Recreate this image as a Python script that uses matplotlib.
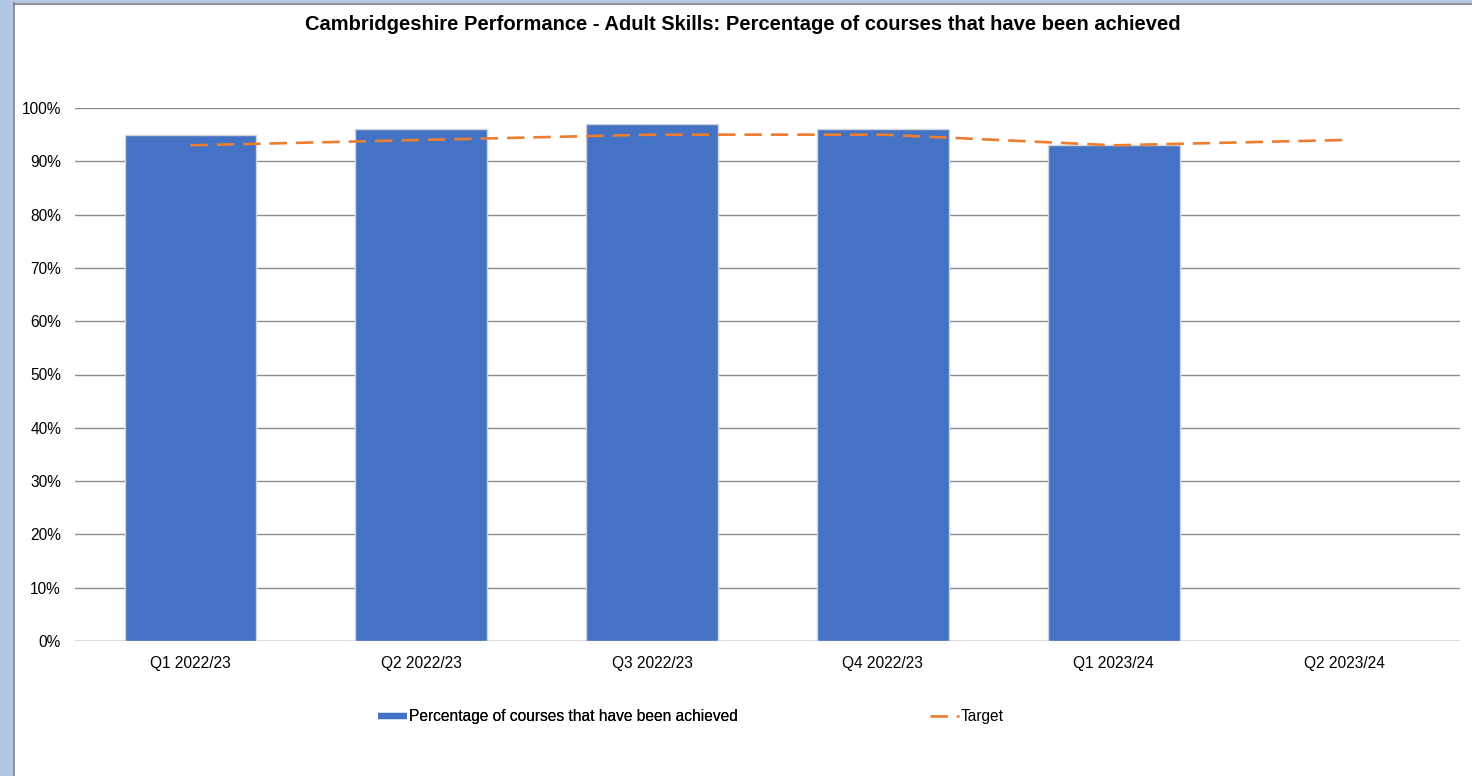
import matplotlib
matplotlib.use("Agg")
import matplotlib.pyplot as plt
from matplotlib.lines import Line2D
from matplotlib.patches import Rectangle
from matplotlib.ticker import PercentFormatter

quarters = ["Q1 2022/23", "Q2 2022/23", "Q3 2022/23", "Q4 2022/23", "Q1 2023/24", "Q2 2023/24"]
achieved = [95, 96, 97, 96, 93, None]
target = [93, 94, 95, 95, 93, 94]
y_ticks = [0, 10, 20, 30, 40, 50, 60, 70, 80, 90, 100]

title = "Cambridgeshire Performance - Adult Skills: Percentage of courses that have been achieved"
bar_label = "Percentage of courses that have been achieved"
line_label = "Target"

BLUE = "#4472C4"
ORANGE = "#ED7D31"
FONT = "Liberation Sans"
LABEL_SIZE = 11.2

W, H = 1472, 776
fig = plt.figure(figsize=(W / 100, H / 100), dpi=100)
fig.patch.set_facecolor("white")

# window frame on the left and top
fig.add_artist(Rectangle((0, 0), 13 / W, 1, transform=fig.transFigure,
                         facecolor="#B4C7E7", edgecolor="none", zorder=0))
fig.add_artist(Rectangle((0, 1 - 3 / H), 1, 3 / H, transform=fig.transFigure,
                         facecolor="#B4C7E7", edgecolor="none", zorder=0))
fig.add_artist(Line2D([13.5 / W, 13.5 / W], [0, 1 - 3 / H], transform=fig.transFigure,
                      color="#7F7F7F", lw=1.2))
fig.add_artist(Line2D([13.5 / W, 1], [1 - 3.5 / H, 1 - 3.5 / H], transform=fig.transFigure,
                      color="#7F7F7F", lw=1.2))

left, right = 75 / W, 1460 / W
bottom, top = (H - 641) / H, (H - 108) / H
ax = fig.add_axes([left, bottom, right - left, top - bottom])
ax.set_facecolor("white")

x = list(range(len(quarters)))
bx = [i for i, v in zip(x, achieved) if v is not None]
bv = [v for v in achieved if v is not None]
ax.bar(bx, bv, width=0.57, color=BLUE, edgecolor="#D0D5DD", linewidth=1.0, zorder=2)

ln, = ax.plot(x, target, color=ORANGE, lw=1.9, zorder=3)
ln.set_dashes([6.6, 3.4])

ax.set_xlim(-0.5, len(quarters) - 0.5)
ax.set_ylim(0, 100)
ax.set_yticks(y_ticks)
ax.yaxis.set_major_formatter(PercentFormatter(decimals=0))
ax.set_xticks(x)
ax.set_xticklabels(quarters)
for s in ax.spines.values():
    s.set_visible(False)
ax.grid(axis="y", color="#8C8C8C", lw=1.0, zorder=0)
ax.set_axisbelow(True)
ax.axhline(0, color="#D9D9D9", lw=1.2, zorder=1)
ax.tick_params(axis="both", length=0, labelsize=LABEL_SIZE, labelcolor="black")
ax.tick_params(axis="y", pad=10)
ax.tick_params(axis="x", pad=10.5)
for lab in ax.get_xticklabels() + ax.get_yticklabels():
    lab.set_fontfamily(FONT)

fig.text(743 / W, 1 - 25 / H, title, ha="center", va="center",
         fontsize=14.5, fontweight="bold", family=FONT)

h_bar = Line2D([], [], color=BLUE, lw=4.5, solid_capstyle="butt")
h_line = Line2D([], [], color=ORANGE, lw=1.9, dashes=[6.6, 3.4])
leg1 = fig.legend([h_bar], [bar_label], loc="center left",
                  bbox_to_anchor=(378 / W, 1 - 717 / H), frameon=False,
                  prop={"family": FONT, "size": LABEL_SIZE}, handlelength=1.85,
                  handletextpad=0.15, borderpad=0, borderaxespad=0)
leg2 = fig.legend([h_line], [line_label], loc="center left",
                  bbox_to_anchor=(930 / W, 1 - 717 / H), frameon=False,
                  prop={"family": FONT, "size": LABEL_SIZE}, handlelength=1.85,
                  handletextpad=0.15, borderpad=0, borderaxespad=0)
fig.add_artist(leg1)

fig.savefig("out.png", dpi=100)
